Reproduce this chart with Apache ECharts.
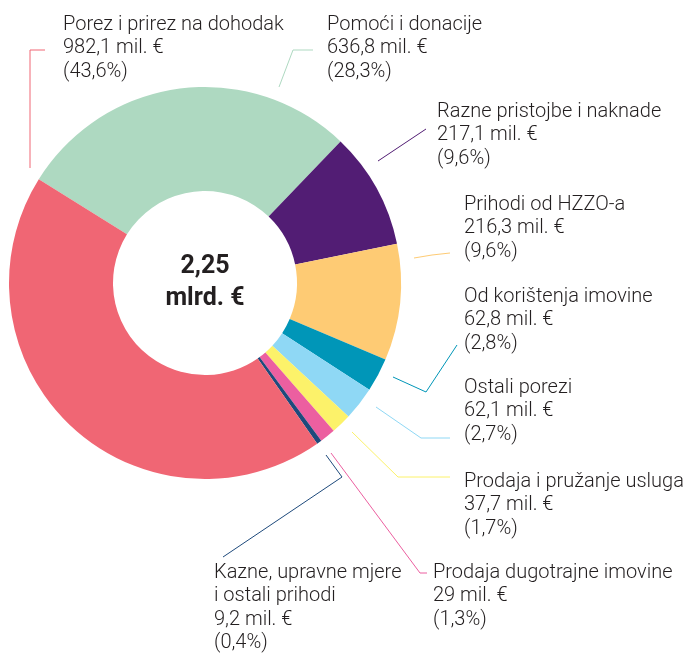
<!DOCTYPE html>
<html>
<head>
<meta charset="utf-8">
<script src="https://cdn.jsdelivr.net/npm/echarts@6/dist/echarts.min.js"></script>
<style>
html,body{margin:0;padding:0;background:#fff;}
#c{width:684px;height:656px;}
</style>
</head>
<body>
<div id="c"></div>
<script>
const categories = ['Pomoći i donacije', 'Razne pristojbe i naknade', 'Prihodi od HZZO-a', 'Od korištenja imovine', 'Ostali porezi', 'Prodaja i pružanje usluga', 'Prodaja dugotrajne imovine', 'Kazne, upravne mjere\ni ostali prihodi', 'Porez i prirez na dohodak'];
const values = [636.8, 217.1, 216.3, 62.8, 62.1, 37.7, 29, 9.2, 982.1];
const shares = ['28,3', '9,6', '9,6', '2,8', '2,7', '1,7', '1,3', '0,4', '43,6'];
const colors = ['#aed9c1', '#521d74', '#fecb74', '#0096b8', '#8fd8f5', '#fcf26a', '#ec5fa0', '#1e4a7c', '#f06674'];

// label placement (layout only)
const labelPos = [
  {x: 327, y: 13, line: [[279, 87], [293, 50], [313, 50]]},
  {x: 437, y: 100, line: [[378, 161], [402, 145], [426, 129]]},
  {x: 464, y: 193, line: [[414, 258], [432, 255], [450, 253]]},
  {x: 464, y: 285, line: [[393, 377], [426, 392], [457, 345]]},
  {x: 464, y: 376, line: [[376, 407], [421, 438], [450, 438]]},
  {x: 464, y: 470, line: [[352, 432], [398, 477], [450, 477]]},
  {x: 433, y: 561, line: [[331, 453], [420, 573], [427, 573]]},
  {x: 214, y: 561, line: [[326, 455], [342, 477], [223, 557]]},
  {x: 63, y: 13, line: [[30, 168], [30, 50], [45, 50]]}
];

const fmt = v => String(v).replace('.', ',');
const total = values.reduce((a, b) => a + b, 0);
const totalText = (total / 1000).toFixed(2).replace('.', ',');

const chart = echarts.init(document.getElementById('c'), null, {renderer: 'canvas'});
chart.setOption({
  animation: false,
  backgroundColor: '#ffffff',
  graphic: [{
    type: 'text',
    x: 205,
    y: 283,
    style: {
      text: totalText + '\nmlrd. €',
      align: 'center',
      verticalAlign: 'middle',
      font: 'bold 25px Roboto, sans-serif',
      lineHeight: 32,
      fill: '#231f20'
    }
  }],
  series: [{
    type: 'pie',
    center: [205, 283],
    radius: [92, 196],
    startAngle: 148,
    clockwise: true,
    avoidLabelOverlap: false,
    silent: true,
    itemStyle: {borderWidth: 0},
    label: {
      show: true,
      position: 'outside',
      formatter: p => p.name + '\n' + fmt(values[p.dataIndex]) + ' mil. €\n(' + shares[p.dataIndex] + '%)',
      fontFamily: 'Roboto, sans-serif',
      fontWeight: 300,
      fontSize: 20,
      lineHeight: 23.5,
      color: '#231f20'
    },
    labelLine: {show: true, lineStyle: {width: 1}},
    labelLayout: function (p) {
      const lp = labelPos[p.dataIndex];
      return {x: lp.x, y: lp.y, align: 'left', verticalAlign: 'top', labelLinePoints: lp.line};
    },
    data: categories.map((c, i) => ({name: c, value: values[i], itemStyle: {color: colors[i]}}))
  }]
});
</script>
</body>
</html>
